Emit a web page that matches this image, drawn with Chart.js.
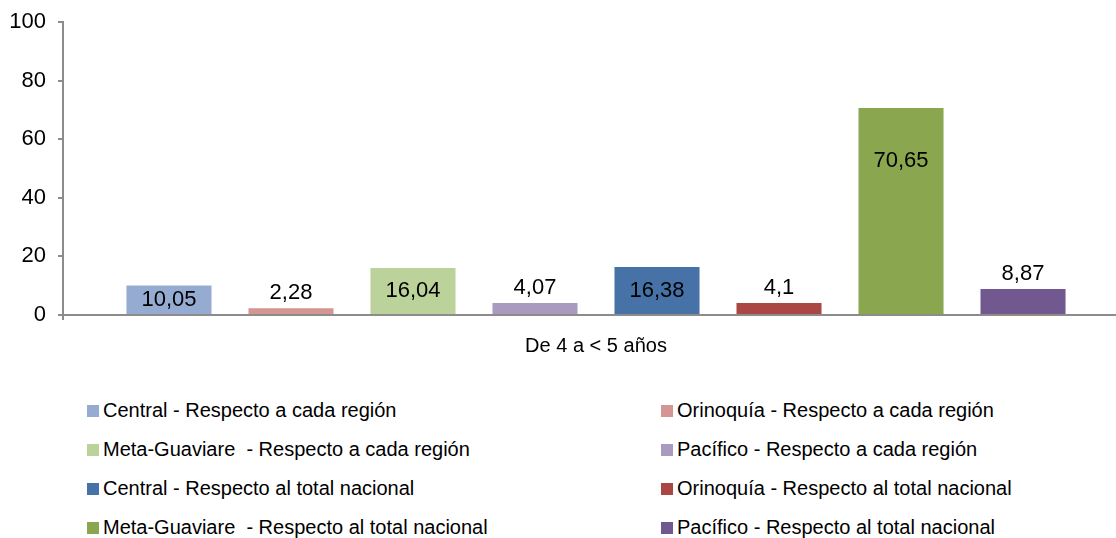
<!DOCTYPE html>
<html>
<head>
<meta charset="utf-8">
<script src="https://cdn.jsdelivr.net/npm/chart.js@4.4.0/dist/chart.umd.min.js"></script>
<style>
  body { margin: 0; background: #fff; overflow: hidden; }
  #wrap { position: relative; width: 1116px; height: 538px; overflow: hidden; }
  #chartBox { position: absolute; left: 0; top: 0; width: 1129px; height: 370px; }
  #legend { position: absolute; left: 0; top: 399px; width: 1116px; font-family: "Liberation Sans Narrow", "Liberation Sans", Arial, sans-serif; font-size: 20px; color: #000; }
  .item { position: absolute; display: flex; align-items: center; white-space: pre; }
  .box { width: 12px; height: 12px; margin-right: 4px; }
</style>
</head>
<body>
<div id="wrap">
  <div id="chartBox"><canvas id="barChart"></canvas></div>
  <div id="legend"></div>
</div>
<script>
const categories = ["De 4 a < 5 años"];
const seriesNames = [
  "Central - Respecto a cada región",
  "Orinoquía - Respecto a cada región",
  "Meta-Guaviare  - Respecto a cada región",
  "Pacífico - Respecto a cada región",
  "Central - Respecto al total nacional",
  "Orinoquía - Respecto al total nacional",
  "Meta-Guaviare  - Respecto al total nacional",
  "Pacífico - Respecto al total nacional"
];
const seriesValues = [10.05, 2.28, 16.04, 4.07, 16.38, 4.1, 70.65, 8.87];
const seriesColors = ["#95abd2", "#d59593", "#bbd29a", "#a99bc0", "#4672a8", "#aa4644", "#8aa64e", "#71588f"];
const yTicks = [0, 20, 40, 60, 80, 100];

const fontFamily = '"Liberation Sans Narrow", "Liberation Sans", Arial, sans-serif';
const axisColor = "#8c8c8c";

const barLabels = {
  id: "barLabels",
  afterDatasetsDraw(chart) {
    const { ctx } = chart;
    ctx.save();
    ctx.font = "22px " + fontFamily;
    ctx.fillStyle = "#000";
    ctx.textAlign = "center";
    ctx.textBaseline = "middle";
    chart.data.datasets.forEach((ds, i) => {
      const bar = chart.getDatasetMeta(i).data[0];
      const h = bar.base - bar.y;
      const text = String(ds.data[0]).replace(".", ",");
      let y;
      if (h >= 28) {
        y = bar.y + Math.min(h / 2, 53);
      } else {
        y = bar.y - 15;
      }
      ctx.fillText(text, bar.x, y);
    });
    ctx.restore();
  }
};

const chart = new Chart(document.getElementById("barChart").getContext("2d"), {
  type: "bar",
  data: {
    labels: categories,
    datasets: seriesNames.map((name, i) => ({
      label: name,
      data: [seriesValues[i]],
      backgroundColor: seriesColors[i],
      borderWidth: 0,
      categoryPercentage: 0.9156,
      barPercentage: 0.697
    }))
  },
  options: {
    responsive: true,
    maintainAspectRatio: false,
    animation: false,
    layout: { padding: { top: 22, right: 0, left: 0, bottom: 0 } },
    plugins: {
      legend: { display: false },
      tooltip: { enabled: false }
    },
    scales: {
      x: {
        grid: { drawOnChartArea: false, drawTicks: true, tickLength: 5, color: axisColor, lineWidth: 2 },
        border: { color: axisColor, width: 2 },
        ticks: { color: "#000", font: { family: fontFamily, size: 20 }, padding: 14 },
        afterFit(scale) { scale.height = 55; }
      },
      y: {
        min: 0,
        max: 100,
        afterBuildTicks(scale) { scale.ticks = yTicks.map(v => ({ value: v })); },
        grid: { drawOnChartArea: false, drawTicks: true, tickLength: 5, color: axisColor, lineWidth: 2 },
        border: { color: axisColor, width: 2 },
        ticks: { color: "#000", font: { family: fontFamily, size: 22, lineHeight: 1 }, padding: 12 },
        afterFit(scale) { scale.width = 63; scale.paddingTop = 0; }
      }
    }
  },
  plugins: [barLabels]
});

// two-column legend below the chart
const legendEl = document.getElementById("legend");
const colX = [87, 661];
chart.data.datasets.forEach((ds, i) => {
  const item = document.createElement("div");
  item.className = "item";
  item.style.left = colX[i % 2] + "px";
  item.style.top = (Math.floor(i / 2) * 39) + "px";
  const box = document.createElement("span");
  box.className = "box";
  box.style.background = ds.backgroundColor;
  const txt = document.createElement("span");
  txt.textContent = ds.label;
  item.appendChild(box);
  item.appendChild(txt);
  legendEl.appendChild(item);
});
</script>
</body>
</html>
